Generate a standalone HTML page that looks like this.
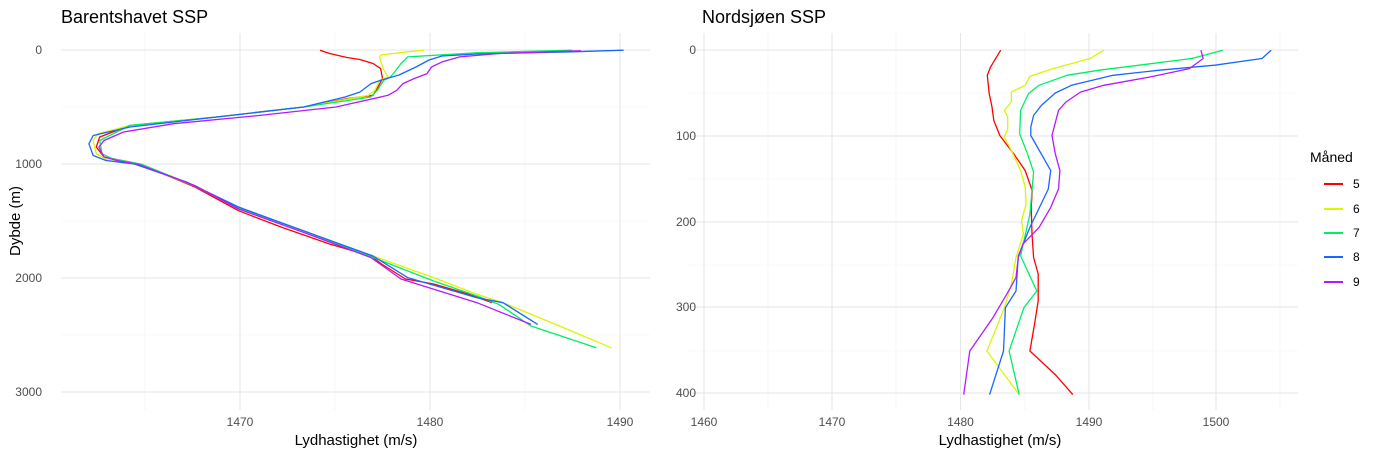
<!DOCTYPE html>
<html><head><meta charset="utf-8"><style>
body{margin:0;background:#fff;}
svg{display:block;font-family:"Liberation Sans",sans-serif;}
</style></head><body>
<svg width="1385" height="455" viewBox="0 0 1385 455" xmlns="http://www.w3.org/2000/svg">
<rect width="1385" height="455" fill="#fff"/>
<g stroke="#f1f1f1" stroke-width="0.6">
<line x1="61" x2="650" y1="107" y2="107"/><line x1="61" x2="650" y1="221" y2="221"/><line x1="61" x2="650" y1="335" y2="335"/>
<line x1="145" x2="145" y1="33" y2="410"/><line x1="335" x2="335" y1="33" y2="410"/><line x1="525" x2="525" y1="33" y2="410"/>
</g>
<g stroke="#e6e6e6" stroke-width="1.1">
<line x1="61" x2="650" y1="50" y2="50"/><line x1="61" x2="650" y1="164" y2="164"/><line x1="61" x2="650" y1="278" y2="278"/><line x1="61" x2="650" y1="392" y2="392"/>
<line x1="240" x2="240" y1="33" y2="410"/><line x1="430" x2="430" y1="33" y2="410"/><line x1="620" x2="620" y1="33" y2="410"/>
</g>
<g stroke="#f1f1f1" stroke-width="0.6">
<line x1="688" x2="1298" y1="93" y2="93"/><line x1="688" x2="1298" y1="179" y2="179"/><line x1="688" x2="1298" y1="265" y2="265"/><line x1="688" x2="1298" y1="351" y2="351"/>
<line x1="768" x2="768" y1="33" y2="410"/><line x1="896" x2="896" y1="33" y2="410"/><line x1="1025" x2="1025" y1="33" y2="410"/><line x1="1153" x2="1153" y1="33" y2="410"/><line x1="1280" x2="1280" y1="33" y2="410"/>
</g>
<g stroke="#e6e6e6" stroke-width="1.1">
<line x1="688" x2="1298" y1="50" y2="50"/><line x1="688" x2="1298" y1="136" y2="136"/><line x1="688" x2="1298" y1="222" y2="222"/><line x1="688" x2="1298" y1="307" y2="307"/><line x1="688" x2="1298" y1="393" y2="393"/>
<line x1="704" x2="704" y1="33" y2="410"/><line x1="832" x2="832" y1="33" y2="410"/><line x1="960.5" x2="960.5" y1="33" y2="410"/><line x1="1089" x2="1089" y1="33" y2="410"/><line x1="1216" x2="1216" y1="33" y2="410"/>
</g>
<text x="61" y="23" font-size="18" fill="#000">Barentshavet SSP</text>
<text x="702" y="23" font-size="18" fill="#000">Nordsjøen SSP</text>
<g font-size="12" fill="#4d4d4d" text-anchor="end">
<text x="42" y="54">0</text><text x="42" y="168">1000</text><text x="42" y="282">2000</text><text x="42" y="396">3000</text>
<text x="696" y="54">0</text><text x="696" y="140">100</text><text x="696" y="226">200</text><text x="696" y="311">300</text><text x="696" y="397">400</text>
</g>
<g font-size="12" fill="#4d4d4d" text-anchor="middle">
<text x="240" y="426">1470</text><text x="430" y="426">1480</text><text x="620" y="426">1490</text>
<text x="704" y="426">1460</text><text x="832" y="426">1470</text><text x="960.5" y="426">1480</text><text x="1089" y="426">1490</text><text x="1216" y="426">1500</text>
</g>
<g font-size="15" fill="#000" text-anchor="middle">
<text x="356" y="445">Lydhastighet (m/s)</text>
<text x="1000" y="445">Lydhastighet (m/s)</text>
<text transform="translate(20,221) rotate(-90)">Dybde (m)</text>
</g>
<g fill="none" stroke-width="1.3" stroke-linejoin="round">
<polyline stroke="#ff0000" points="320,50.2 329.6,53.5 347,57.5 360,59.5 373,63.5 380.7,68.6 382.5,78.6 378,87 373,95.3 347,98.7 303.6,107 216.8,117 130,125.4 99.7,137 96.3,147 104,157 130,162 143,165.5 195,187 238.5,210.7 282,227.4 329.6,244 370.8,256 381.6,264 405.5,279 433.6,284 468,294 492,302.7"/>
<polyline stroke="#dcf500" points="424,50.2 407.6,51.8 380.7,55 379.5,57.5 381.6,63.5 383.8,70 388,77 379.5,80.3 375,90.3 368.6,95.3 303.6,107 216.8,117 130,125.4 97.6,133.8 93.2,140.5 96.3,153.8 108.4,160.5 138.8,164.5 195,186 238.5,208 303.6,230.8 373,256 433.6,277.6 477,294.3 503,302.7 559.4,326 611.4,347.8"/>
<polyline stroke="#00ee66" points="572.4,50.2 477,52.8 407.6,56.9 401,63.5 394.6,72 390.3,77 383.8,80.3 377.3,90.3 370.8,97 303.6,107 216.8,117 130,125.4 99.7,140.5 102,153.8 112.7,158.9 140.9,164 195,186 238.5,208 303.6,230.8 373,257.5 433.6,281 477,296 498.7,304.3 531,326 596.3,347.8"/>
<polyline stroke="#1a66ff" points="623.6,50.2 572,51.8 477,54 442,56 429,60 416,67 399,75 381.6,80 371,83.6 360,92 345,97 303.6,107 216.8,117 130,127 93.2,135.5 88.9,143.8 93.2,155.5 106,160.5 134.4,164 186.5,182 238.5,207 303.6,230.8 373,256 407.6,277.6 477,297.7 503,302.7 537.7,324.4"/>
<polyline stroke="#b31aff" points="581,50.8 498.7,53.5 459.7,56.9 442,61.9 431.5,67 427,73.6 414,78.6 403,83.6 396.8,90.3 388,95.3 336,107 260,115.4 173.5,123.7 123.6,132 104,140.5 98.9,147 104,157 117,160.5 138.8,164.5 195,185.6 238.5,209 303.6,232.4 370.8,257.5 401,279 477,302.7 531,324.4"/>
</g>
<g fill="none" stroke-width="1.3" stroke-linejoin="round">
<polyline stroke="#ff0000" points="1000.7,50.2 990.6,66.9 987.3,75.3 989.2,93.6 992,107 993.8,120.4 999.8,135.5 1013.7,153.8 1025.2,170.6 1032.2,190.6 1031.2,207.4 1032,234 1033.6,257.5 1038.2,274 1038.2,301 1034.5,324.4 1029.9,351 1055.3,374.6 1072.8,394.6"/>
<polyline stroke="#dcf500" points="1103.8,50.2 1090,58.5 1053,68.6 1029.9,76.3 1025.2,85.3 1011.4,92 1011.4,102 1004.4,110.4 1007.7,117 1007.7,128.8 1004.4,137 1011.4,150.5 1020.6,170.6 1025.2,187.3 1026.2,204 1021.5,220.7 1023.4,234 1016,257.5 1011.4,284.3 1004.4,307.7 986.9,351 1019.2,394.6"/>
<polyline stroke="#00ee66" points="1223,50.2 1191.7,58.5 1099.2,70.2 1066.8,75.3 1039.1,85.3 1028.5,93.6 1020.6,110.4 1019.7,133.8 1027.5,153.8 1033.6,172.2 1029.9,214 1020.6,255.9 1036.8,291 1023.9,307.7 1009.1,351 1019.2,394.6"/>
<polyline stroke="#1a66ff" points="1271.2,50.2 1262,58.5 1214.8,65.2 1159.3,70.2 1113,75.3 1092.3,80.3 1071.5,85.3 1055.3,93 1041.4,105.4 1033.6,115.4 1030.8,127.1 1030.8,135.5 1050.7,170.6 1048.3,189 1029.9,227.4 1018.3,255.9 1016,291 1005.4,307.7 1003.5,351 989.6,394.6"/>
<polyline stroke="#b31aff" points="1200.9,50.2 1203.2,58.5 1189.4,68.6 1150,77 1103.8,85.3 1080.7,92 1065.9,102 1058.5,110.4 1052,135.5 1055.3,153.8 1059.9,170.6 1058.5,189 1050.7,207.4 1039.1,227.4 1022.9,244.1 1018.3,257.5 1016,277.6 1006.7,294.3 992.9,317.7 969.8,351 963.7,394.6"/>
</g>
<text x="1310" y="162" font-size="14" fill="#000">Måned</text>
<g stroke-width="2">
<line x1="1324" x2="1343" y1="184" y2="184" stroke="#ff0000"/>
<line x1="1324" x2="1343" y1="209" y2="209" stroke="#dcf500"/>
<line x1="1324" x2="1343" y1="233" y2="233" stroke="#00ee66"/>
<line x1="1324" x2="1343" y1="257" y2="257" stroke="#1a66ff"/>
<line x1="1324" x2="1343" y1="282" y2="282" stroke="#b31aff"/>
</g>
<g font-size="12" fill="#000">
<text x="1353" y="188">5</text><text x="1353" y="213">6</text><text x="1353" y="237">7</text><text x="1353" y="261">8</text><text x="1353" y="286">9</text>
</g>
</svg>
</body></html>
